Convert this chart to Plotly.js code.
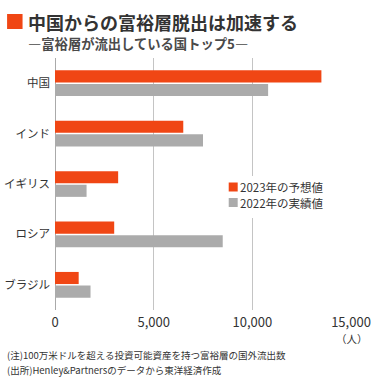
<!DOCTYPE html>
<html>
<head>
<meta charset="utf-8">
<script src="https://cdn.plot.ly/plotly-3.0.1.min.js"></script>
<style>html,body{margin:0;padding:0;background:#fff;}#chart{width:375px;height:388px;}</style>
</head>
<body>
<div id="chart"></div>
<script>
const categories = ["中国", "インド", "イギリス", "ロシア", "ブラジル"];
const forecast2023 = [13500, 6500, 3200, 3000, 1200];
const actual2022 = [10800, 7500, 1600, 8500, 1800];
const seriesNames = ["2023年の予想値", "2022年の実績値"];
const xTicks = [0, 5000, 10000, 15000];
const xTickLabels = ["0", "5,000", "10,000", "15,000"];

const FONT = '"Noto Sans CJK JP", "Noto Sans", sans-serif';
const ORANGE = '#f04614';
const GRAY = '#ababab';
const TXT = '#333333';

const W = 375, H = 388;
const M = {l: 55, r: 23.5, t: 58, b: 78};
const pw = W - M.l - M.r, ph = H - M.t - M.b;
const px = x => (x - M.l) / pw;
const py = y => (H - M.b - y) / ph;

const traces = [
  {type: 'bar', orientation: 'h', name: seriesNames[0], y: categories, x: forecast2023,
   marker: {color: ORANGE}, showlegend: false, hoverinfo: 'x+name'},
  {type: 'bar', orientation: 'h', name: seriesNames[1], y: categories, x: actual2022,
   marker: {color: GRAY}, showlegend: false, hoverinfo: 'x+name'}
];

const shapes = [
  {type: 'rect', xref: 'paper', yref: 'paper', x0: px(7), x1: px(22.5), y0: py(29), y1: py(14),
   fillcolor: ORANGE, line: {width: 0}},
  {type: 'rect', xref: 'paper', yref: 'paper', x0: px(225), x1: px(330), y0: py(218), y1: py(176),
   fillcolor: '#ffffff', line: {width: 0}, layer: 'above'},
  {type: 'rect', xref: 'paper', yref: 'paper', x0: px(229), x1: px(238), y0: py(191.5), y1: py(182.5),
   fillcolor: ORANGE, line: {width: 0}, layer: 'above'},
  {type: 'rect', xref: 'paper', yref: 'paper', x0: px(229), x1: px(238), y0: py(207), y1: py(198),
   fillcolor: GRAY, line: {width: 0}, layer: 'above'}
];

const annotations = [
  {xref: 'paper', yref: 'paper', x: px(26), y: py(21.5), xanchor: 'left', yanchor: 'middle', showarrow: false,
   text: '<b>中国からの富裕層脱出は加速する</b>', font: {family: FONT, size: 18, color: TXT}},
  {xref: 'paper', yref: 'paper', x: px(26), y: py(44), xanchor: 'left', yanchor: 'middle', showarrow: false,
   text: '<b>―富裕層が流出している国トップ5―</b>', font: {family: FONT, size: 13.3, color: '#4a4a4a'}},
  {xref: 'paper', yref: 'paper', x: px(238.5), y: py(187), xanchor: 'left', yanchor: 'middle', showarrow: false,
   text: seriesNames[0], font: {family: FONT, size: 11.5, color: TXT}},
  {xref: 'paper', yref: 'paper', x: px(238.5), y: py(202.5), xanchor: 'left', yanchor: 'middle', showarrow: false,
   text: seriesNames[1], font: {family: FONT, size: 11.5, color: TXT}},
  {xref: 'paper', yref: 'paper', x: px(371), y: py(338), xanchor: 'right', yanchor: 'middle', showarrow: false,
   text: '（人）', font: {family: FONT, size: 10.5, color: TXT}},
  {xref: 'paper', yref: 'paper', x: px(5), y: py(355), xanchor: 'left', yanchor: 'middle', showarrow: false,
   text: '(注)100万米ドルを超える投資可能資産を持つ富裕層の国外流出数', font: {family: FONT, size: 9.5, color: TXT}},
  {xref: 'paper', yref: 'paper', x: px(5), y: py(370), xanchor: 'left', yanchor: 'middle', showarrow: false,
   text: '(出所)Henley&Partnersのデータから東洋経済作成', font: {family: FONT, size: 9.5, color: TXT}}
];

const layout = {
  width: W, height: H,
  margin: M,
  paper_bgcolor: '#ffffff', plot_bgcolor: '#ffffff',
  barmode: 'group', bargap: 0.46, bargroupgap: 0.11,
  showlegend: false,
  font: {family: FONT, color: TXT},
  xaxis: {range: [0, 15000], tickvals: xTicks, ticktext: xTickLabels, showgrid: true, gridcolor: '#c4c4c4',
          gridwidth: 1, zeroline: true, zerolinecolor: '#aaaaaa', zerolinewidth: 1, ticks: '', fixedrange: true,
          ticklabelstandoff: 3,
          tickfont: {family: FONT, size: 13, color: TXT}, showline: false},
  yaxis: {type: 'category', categoryarray: categories, autorange: 'reversed', ticks: '', showgrid: false,
          zeroline: false, showline: false, fixedrange: true, ticklabelstandoff: 4,
          tickfont: {family: FONT, size: 11.5, color: TXT}},
  shapes: shapes,
  annotations: annotations
};

Plotly.newPlot('chart', traces, layout, {displayModeBar: false, staticPlot: true});
</script>
</body>
</html>
